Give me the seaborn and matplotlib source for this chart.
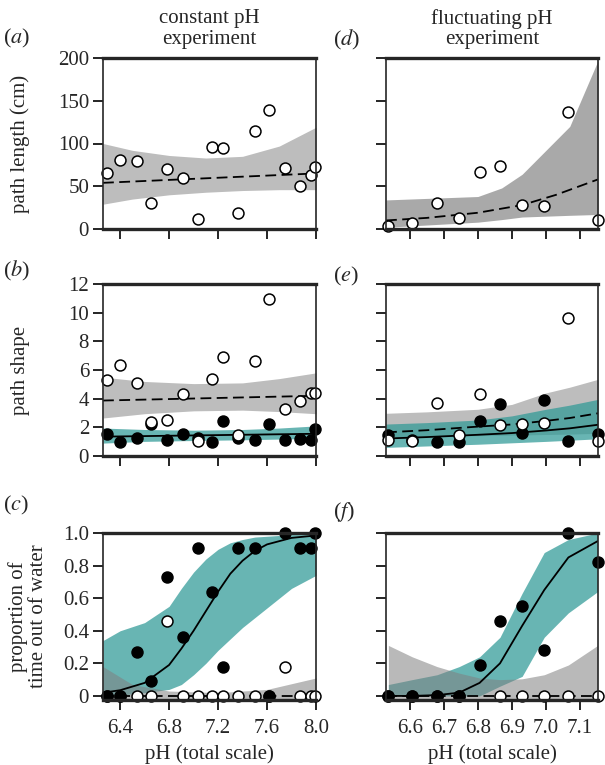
import numpy as np
import matplotlib
matplotlib.use('Agg')
import matplotlib.pyplot as plt
import seaborn as sns

sns.set_style('ticks')
plt.rcParams['font.family'] = ['Liberation Serif', 'DejaVu Serif']
plt.rcParams['mathtext.fontset'] = 'stix'

# ---------------- data ----------------
# constant pH experiment (16 fish)
ph_const = [6.29, 6.40, 6.54, 6.65, 6.78, 6.91, 7.04, 7.15, 7.24, 7.36, 7.50, 7.62, 7.75, 7.87, 7.96, 7.99]
# fluctuating pH experiment (10 fish)
ph_fluc = [6.537, 6.607, 6.68, 6.745, 6.805, 6.865, 6.93, 6.995, 7.066, 7.152]

# (a) path length, open circles
a_open = [65, 81, 79, 30, 70, 60, 12, 96, 95, 19, 115, 139, 71, 50, 63, 72]
a_fit_ph = [6.26, 8.0]
a_fit = [54, 65]
a_band_ph = [6.26, 6.5, 6.8, 7.1, 7.4, 7.7, 8.0]
a_band_lo = [29, 35, 40, 43, 45, 46, 46]
a_band_hi = [100, 92, 86, 83, 85, 97, 119]

# (d) path length
d_open = [3.5, 7.5, 30.6, 13, 66.7, 73.7, 28.6, 26.7, 137, 10.6]
d_fit_ph = [6.53, 6.65, 6.8, 6.93, 7.03, 7.153]
d_fit = [10, 13, 19, 28, 40, 58]
d_band_ph = [6.53, 6.8, 6.87, 6.93, 7.07, 7.153]
d_band_lo = [2, 8, 11, 14, 16, 17]
d_band_hi = [34, 38, 48, 64, 120, 197]

# (b) path shape, open and filled circles
b_open = [5.28, 6.35, 5.07, 2.37, 2.53, 4.33, 1.02, 5.35, 6.89, 1.44, 6.65, 10.93, 3.28, 3.82, 4.37, 4.37]
b_filled = [1.51, 1.0, 1.26, 2.25, 1.12, 1.53, 1.25, 1.0, 2.44, 1.23, 1.14, 2.23, 1.14, 1.21, 1.12, 1.9]
b_fit_ph = [6.26, 8.0]
b_fit_open = [3.87, 4.2]
b_fit_filled = [1.35, 1.55]
b_band_ph = [6.26, 6.6, 7.0, 7.4, 7.7, 8.0]
b_gray_lo = [2.65, 2.95, 3.15, 3.2, 3.1, 2.95]
b_gray_hi = [5.5, 5.2, 5.05, 5.1, 5.4, 5.8]
b_teal_lo = [0.9, 1.02, 1.08, 1.13, 1.18, 1.23]
b_teal_hi = [1.95, 1.85, 1.8, 1.85, 1.95, 2.1]

# (e) path shape
e_open = [1.12, 1.05, 3.68, 1.44, 4.33, 2.19, 2.21, 2.33, 9.65, 1.05]
e_filled = [1.47, 1.12, 1.0, 1.0, 2.44, 3.63, 1.63, 3.89, 1.05, 1.51]
e_band_ph = [6.53, 6.65, 6.8, 6.9, 7.0, 7.07, 7.153]
e_gray_lo = [1.35, 1.38, 1.42, 1.46, 1.5, 1.53, 1.58]
e_gray_hi = [2.98, 3.08, 3.26, 3.6, 4.4, 4.8, 5.35]
e_teal_lo = [0.6, 0.7, 0.82, 0.92, 1.02, 1.1, 1.2]
e_teal_hi = [2.23, 2.33, 2.51, 2.8, 3.26, 3.55, 3.95]
e_fit_open = [1.65, 1.8, 2.05, 2.2, 2.45, 2.65, 2.98]
e_fit_filled = [1.22, 1.32, 1.48, 1.6, 1.78, 1.93, 2.18]

# (c) proportion of time out of water
c_open = [0, 0, 0, 0, 0.46, 0, 0, 0, 0, 0, 0, 0, 0.18, 0, 0, 0]
c_filled = [0, 0, 0.27, 0.09, 0.73, 0.36, 0.91, 0.64, 0.18, 0.91, 0.91, 0, 1.0, 0.91, 0.91, 1.0]
c_fit_ph = [6.26, 6.4, 6.6, 6.8, 6.9, 7.0, 7.1, 7.2, 7.3, 7.4, 7.5, 7.6, 7.8, 8.0]
c_fit_filled = [0.02, 0.035, 0.08, 0.19, 0.29, 0.40, 0.52, 0.64, 0.75, 0.83, 0.89, 0.93, 0.97, 0.985]
c_teal_lo = [0.0, 0.005, 0.02, 0.04, 0.07, 0.13, 0.2, 0.28, 0.35, 0.42, 0.48, 0.54, 0.66, 0.74]
c_teal_hi = [0.34, 0.40, 0.45, 0.55, 0.66, 0.76, 0.84, 0.9, 0.94, 0.96, 0.975, 0.98, 0.99, 0.99]
c_gray_ph = [6.26, 6.5, 6.8, 7.2, 7.6, 8.0]
c_gray_hi = [0.18, 0.07, 0.03, 0.02, 0.04, 0.11]
c_fit_open = [0, 0]

# (f)
f_open = [0, 0, 0, 0, np.nan, 0, 0, 0, 0, 0]
f_filled = [0, 0, 0, 0, 0.19, 0.46, 0.55, 0.28, 1.0, 0.82]
f_fit_filled = [0.0, 0.0, 0.005, 0.02, 0.08, 0.2, 0.43, 0.65, 0.85, 0.95]
f_teal_lo = [0.0, 0.0, 0.0, 0.0, 0.0, 0.06, 0.12, 0.36, 0.51, 0.64]
f_teal_hi = [0.07, 0.1, 0.13, 0.18, 0.24, 0.36, 0.63, 0.88, 0.96, 1.0]
f_gray_hi = [0.31, 0.24, 0.18, 0.14, 0.11, 0.10, 0.105, 0.13, 0.19, 0.31]

TEAL = (0.18, 0.6, 0.59, 0.72)
GRAY_OVER = (0.5, 0.5, 0.5, 0.55)
DASH = (0, (6, 3))

fig = plt.figure(figsize=(6.05, 7.65), dpi=100)
left_x, right_x, w = 103 / 605, 386 / 605, 213 / 605
rows = [(1 - 229 / 765, 171 / 765), (1 - 456 / 765, 172 / 765), (1 - 700 / 765, 167 / 765)]
axes = {}
for r, (b, h) in enumerate(rows):
    axes[(r, 0)] = fig.add_axes([left_x, b, w, h])
    axes[(r, 1)] = fig.add_axes([right_x, b, 212 / 605, h])


def open_pts(ax, x, y, z=5):
    sns.scatterplot(x=x, y=y, ax=ax, color='white', edgecolor='black', s=62,
                    linewidth=1.1, zorder=z, clip_on=False)


def filled_pts(ax, x, y, z=4):
    sns.scatterplot(x=x, y=y, ax=ax, color='black', edgecolor='black', s=62,
                    linewidth=1.1, zorder=z, clip_on=False)


def line(ax, x, y, ls='-'):
    sns.lineplot(x=x, y=y, ax=ax, color='black', lw=1.3, linestyle=ls, zorder=3)


# (a)
ax = axes[(0, 0)]
ax.fill_between(a_band_ph, a_band_lo, a_band_hi, color='#bdbdbd', lw=0, zorder=1)
line(ax, a_fit_ph, a_fit, DASH)
open_pts(ax, ph_const, a_open)

# (d)
ax = axes[(0, 1)]
ax.fill_between(d_band_ph, d_band_lo, d_band_hi, color='#a9a9a9', lw=0, zorder=1)
line(ax, d_fit_ph, d_fit, DASH)
open_pts(ax, ph_fluc, d_open)

# (b)
ax = axes[(1, 0)]
ax.fill_between(b_band_ph, b_gray_lo, b_gray_hi, color='#bdbdbd', lw=0, zorder=1)
ax.fill_between(b_band_ph, b_teal_lo, b_teal_hi, color=TEAL, lw=0, zorder=2)
line(ax, b_fit_ph, b_fit_open, DASH)
line(ax, b_fit_ph, b_fit_filled)
filled_pts(ax, ph_const, b_filled)
open_pts(ax, ph_const, b_open)

# (e)
ax = axes[(1, 1)]
ax.fill_between(e_band_ph, e_gray_lo, e_gray_hi, color='#bdbdbd', lw=0, zorder=1)
ax.fill_between(e_band_ph, e_teal_lo, e_teal_hi, color=TEAL, lw=0, zorder=2)
line(ax, e_band_ph, e_fit_open, DASH)
line(ax, e_band_ph, e_fit_filled)
filled_pts(ax, ph_fluc, e_filled)
open_pts(ax, ph_fluc, e_open)

# (c)
ax = axes[(2, 0)]
ax.fill_between(c_fit_ph, c_teal_lo, c_teal_hi, color=TEAL, lw=0, zorder=1)
ax.fill_between(c_gray_ph, -0.03, c_gray_hi, color=GRAY_OVER, lw=0, zorder=2)
line(ax, c_fit_ph, c_fit_filled)
line(ax, a_fit_ph, c_fit_open, DASH)
open_pts(ax, ph_const, c_open, z=4)
filled_pts(ax, ph_const, c_filled, z=5)

# (f)
ax = axes[(2, 1)]
ax.fill_between(ph_fluc, f_teal_lo, f_teal_hi, color=TEAL, lw=0, zorder=1)
ax.fill_between(ph_fluc, -0.03, f_gray_hi, color=GRAY_OVER, lw=0, zorder=2)
line(ax, ph_fluc, f_fit_filled)
line(ax, [6.53, 7.153], [0, 0], DASH)
open_pts(ax, ph_fluc, f_open, z=4)
filled_pts(ax, ph_fluc, f_filled, z=5)

# ---------------- axes styling ----------------
ylims = [(0, 200), (0, 12), (-0.025, 1.0)]
yticks = [[0, 50, 100, 150, 200], [0, 2, 4, 6, 8, 10, 12], [0, 0.2, 0.4, 0.6, 0.8, 1.0]]
ylabels = [['0', '50', '100', '150', '200'], ['0', '2', '4', '6', '8', '10', '12'],
           ['0', '0.2', '0.4', '0.6', '0.8', '1.0']]
for (r, c), ax in axes.items():
    ax.set_ylim(*ylims[r])
    ax.set_yticks(yticks[r])
    if c == 0:
        ax.set_xlim(6.26, 8.0)
        ax.set_xticks([6.4, 6.8, 7.2, 7.6, 8.0])
        ax.set_xticklabels(['6.4', '6.8', '7.2', '7.6', '8.0'])
        ax.set_yticklabels(ylabels[r])
    else:
        ax.set_xlim(6.53, 7.153)
        ax.set_xticks([6.6, 6.7, 6.8, 6.9, 7.0, 7.1])
        ax.set_xticklabels(['6.6', '6.7', '6.8', '6.9', '7.0', '7.1'])
        ax.set_yticklabels([])
    if r < 2:
        ax.set_xticklabels([])
    ax.set_xlabel('')
    ax.set_ylabel('')
    for s in ['top', 'bottom']:
        ax.spines[s].set_linewidth(2.4)
    for s in ['left', 'right']:
        ax.spines[s].set_linewidth(1.2)
    for s in ax.spines.values():
        s.set_zorder(6)
    ax.tick_params(direction='out', length=7, width=1.2, labelsize=15, color='black')
    ax.tick_params(axis='x', pad=7)
    ax.tick_params(axis='y', pad=3)

fs = 15
axes[(0, 0)].set_ylabel('path length (cm)', fontsize=fs)
axes[(1, 0)].set_ylabel('path shape', fontsize=fs)
axes[(2, 0)].set_ylabel('proportion of\ntime out of water', fontsize=fs, linespacing=1.05)
axes[(2, 0)].set_xlabel('pH (total scale)', fontsize=fs, labelpad=4)
axes[(2, 1)].set_xlabel('pH (total scale)', fontsize=fs, labelpad=4)
axes[(0, 0)].yaxis.set_label_coords(-0.345, 0.5)
axes[(1, 0)].yaxis.set_label_coords(-0.345, 0.5)
axes[(2, 0)].yaxis.set_label_coords(-0.26, 0.5)

fig.text(209.5 / 605, 1 - 29 / 765, 'constant pH\nexperiment', ha='center', va='center',
         fontsize=fs, linespacing=1.1)
fig.text(492 / 605, 1 - 29 / 765, 'fluctuating pH\nexperiment', ha='center', va='center',
         fontsize=fs, linespacing=1.1)

panel_labels = [('a', 3, 38), ('d', 333, 40), ('b', 3, 271), ('e', 333, 276), ('c', 3, 505), ('f', 333, 512)]
for letter, px, py in panel_labels:
    fig.text(px / 605, 1 - py / 765, '(' + r'$\mathit{' + letter + r'}$' + ')', ha='left', va='center',
             fontsize=fs + 1)

fig.savefig('out.png', dpi=100)
